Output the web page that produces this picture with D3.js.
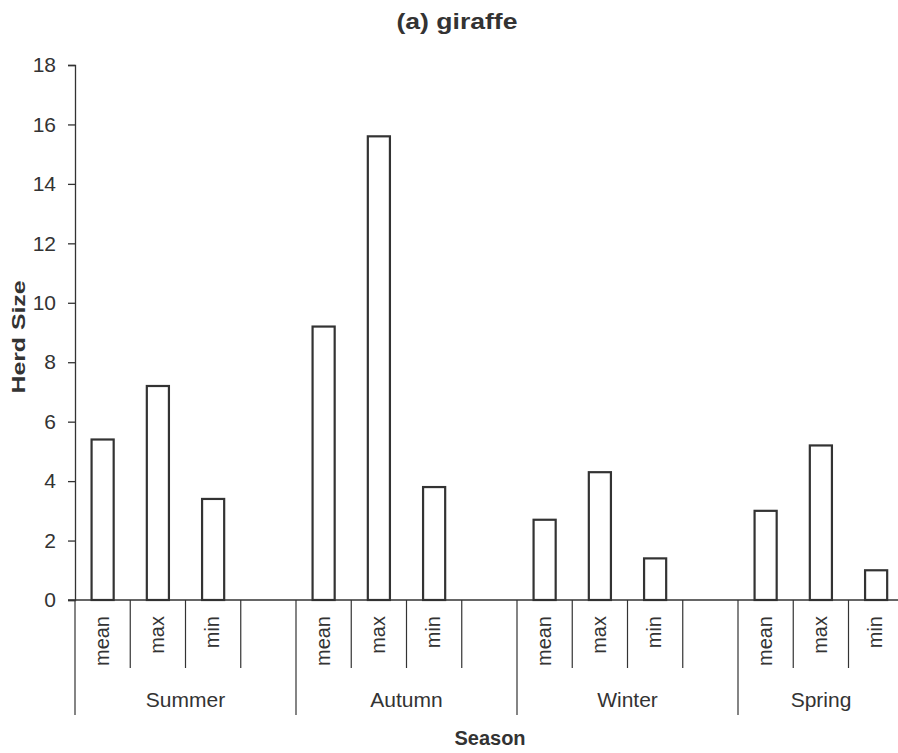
<!DOCTYPE html>
<html>
<head>
<meta charset="utf-8">
<title>(a) giraffe</title>
<script src="https://d3js.org/d3.v7.min.js"></script>
<style>
  body { margin: 0; background: #fff; }
  text { font-family: "Liberation Sans", Arial, sans-serif; fill: #333; }
</style>
</head>
<body>
<svg id="chart" width="898" height="753"></svg>
<script>
// data
var seasons = ["Summer", "Autumn", "Winter", "Spring"];
var stats = ["mean", "max", "min"];
var meanVals = [5.4, 9.2, 2.7, 3.0];
var maxVals = [7.2, 15.6, 4.3, 5.2];
var minVals = [3.4, 3.8, 1.4, 1.0];
var yTicks = [0, 2, 4, 6, 8, 10, 12, 14, 16, 18];

var rows = [];
seasons.forEach(function(s, i) {
  rows.push({season: s, stat: "mean", value: meanVals[i]});
  rows.push({season: s, stat: "max", value: maxVals[i]});
  rows.push({season: s, stat: "min", value: minVals[i]});
});

var svg = d3.select("#chart");
var ink = "#333";
var visibleRight = 904; // the plot runs past the right edge of the page

var x0 = d3.scaleBand().domain(seasons).range([75, 959]).padding(0);
// 4th slot of each group is left empty
var x1 = d3.scaleBand().domain(stats.concat(["gap"])).range([0, x0.bandwidth()]).padding(0);
var y = d3.scaleLinear().domain([0, 18]).range([600, 65]);

// title
svg.append("text")
  .attr("x", 457).attr("y", 29)
  .attr("text-anchor", "middle")
  .attr("textLength", 121).attr("lengthAdjust", "spacingAndGlyphs")
  .style("font-size", "22px").style("font-weight", "bold")
  .text("(a) giraffe");

// y axis
var yAxis = svg.append("g")
  .attr("transform", "translate(75,0)")
  .call(d3.axisLeft(y).tickValues(yTicks).tickSize(7).tickPadding(12));
yAxis.select(".domain").attr("stroke", ink).attr("stroke-width", 1.3);
yAxis.selectAll(".tick line").attr("stroke", ink).attr("stroke-width", 1.3);
yAxis.selectAll(".tick text")
  .style("font-size", "21px").style("font-family", "Liberation Sans, Arial, sans-serif")
  .attr("fill", ink);

svg.append("text")
  .attr("transform", "translate(25,337)rotate(-90)")
  .attr("text-anchor", "middle")
  .attr("textLength", 113).attr("lengthAdjust", "spacingAndGlyphs")
  .style("font-size", "19px").style("font-weight", "bold")
  .text("Herd Size");

// bars
var bw = x1.bandwidth() * 0.4;
svg.append("g").selectAll("rect")
  .data(rows)
  .enter()
  .append("rect")
  .attr("x", function(d) { return x0(d.season) + x1(d.stat) + (x1.bandwidth() - bw) / 2; })
  .attr("y", function(d) { return y(d.value); })
  .attr("width", bw)
  .attr("height", function(d) { return y(0) - y(d.value); })
  .attr("fill", "#fff")
  .attr("stroke", ink)
  .attr("stroke-width", 2.2);

// baseline
svg.append("line")
  .attr("x1", 68).attr("x2", 959)
  .attr("y1", y(0)).attr("y2", y(0))
  .attr("stroke", ink).attr("stroke-width", 1.3);

// category axis: group separators and slot dividers
var gx = svg.append("g");
seasons.concat(["end"]).forEach(function(s) {
  var xx = s === "end" ? x0.range()[1] : x0(s);
  gx.append("line")
    .attr("x1", xx).attr("x2", xx)
    .attr("y1", y(0)).attr("y2", 715)
    .attr("stroke", ink).attr("stroke-width", 1.2);
});
seasons.forEach(function(s) {
  ["max", "min", "gap"].forEach(function(k) {
    var xx = x0(s) + x1(k);
    gx.append("line")
      .attr("x1", xx).attr("x2", xx)
      .attr("y1", y(0)).attr("y2", 668)
      .attr("stroke", ink).attr("stroke-width", 1.2);
  });
  stats.forEach(function(k) {
    var cx = x0(s) + x1(k) + x1.bandwidth() / 2 + 6;
    gx.append("text")
      .attr("transform", "translate(" + cx + ",616)rotate(-90)")
      .attr("text-anchor", "end")
      .style("font-size", "20px")
      .text(k);
  });
  // season label centred in the visible part of its group
  var left = x0(s), right = Math.min(x0(s) + x0.bandwidth(), visibleRight);
  gx.append("text")
    .attr("x", (left + right) / 2)
    .attr("y", 707)
    .attr("text-anchor", "middle")
    .style("font-size", "21px")
    .text(s);
});

svg.append("text")
  .attr("x", 490).attr("y", 745)
  .attr("text-anchor", "middle")
  .style("font-size", "20px").style("font-weight", "bold")
  .text("Season");
</script>
</body>
</html>
